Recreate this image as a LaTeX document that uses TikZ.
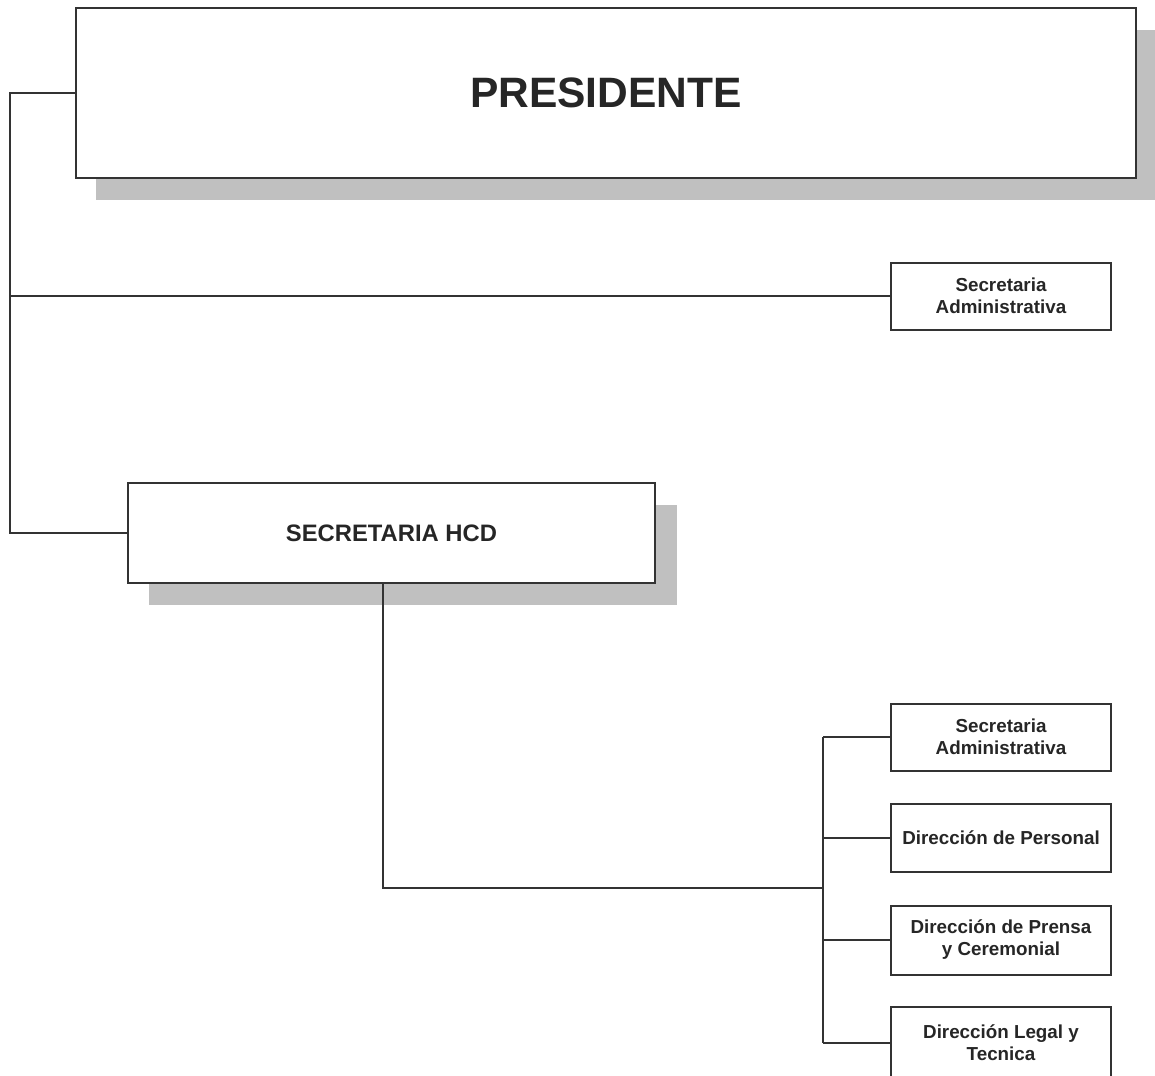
\documentclass[tikz,border=0pt]{standalone}
\usepackage{fontspec}
\setmainfont{Liberation Sans}
\definecolor{linec}{HTML}{333333}
\definecolor{shadowc}{HTML}{C0C0C0}
\begin{document}
\begin{tikzpicture}[x=1pt,y=-1pt,
  box/.style={draw=linec, line width=2pt, fill=white, align=center, font=\bfseries\fontsize{18.8}{22}\selectfont, inner sep=0pt, text=black!85},
  link/.style={draw=linec, line width=2pt},
  shade/.style={fill=shadowc, draw=none}]
\useasboundingbox (0,0) rectangle (1155,1075);
\clip (0,0) rectangle (1155,1075);
% shadows
\fill[shade] (96,30) rectangle (1160,200);
\fill[shade] (149,505) rectangle (677,605);
% boxes
\node[box, minimum width=1060, minimum height=170, font=\bfseries\fontsize{42.5}{48}\selectfont] (pres) at (606,93) {PRESIDENTE};
\node[box, minimum width=527, minimum height=100, font=\bfseries\fontsize{23.8}{28}\selectfont] (hcd) at (391.5,533) {SECRETARIA HCD};
\node[box, minimum width=220, minimum height=67] (sa1) at (1001,296) {Secretaria\\Administrativa};
\node[box, minimum width=220, minimum height=67] (sa2) at (1001,737) {Secretaria\\Administrativa};
\node[box, minimum width=220, minimum height=68] (dp) at (1001,838) {Dirección de Personal};
\node[box, minimum width=220, minimum height=69] (dpc) at (1001,940) {Dirección de Prensa\\y Ceremonial};
\node[box, minimum width=220, minimum height=72] (dl) at (1001,1043) {Dirección Legal y\\Tecnica};
% connectors
\coordinate (t) at (10,93);
\coordinate (b) at (823,888);
\draw[link] (pres.west) -- (t) |- (hcd.west);
\draw[link] (t |- sa1.west) -- (sa1.west);
\draw[link] ([xshift=-8.5pt]hcd.south) |- (b);
\draw[link] (b |- sa2.west) -- (b |- dl.west);
\draw[link] (b |- sa2.west) -- (sa2.west);
\draw[link] (b |- dp.west) -- (dp.west);
\draw[link] (b |- dpc.west) -- (dpc.west);
\draw[link] (b |- dl.west) -- (dl.west);
\end{tikzpicture}
\end{document}
